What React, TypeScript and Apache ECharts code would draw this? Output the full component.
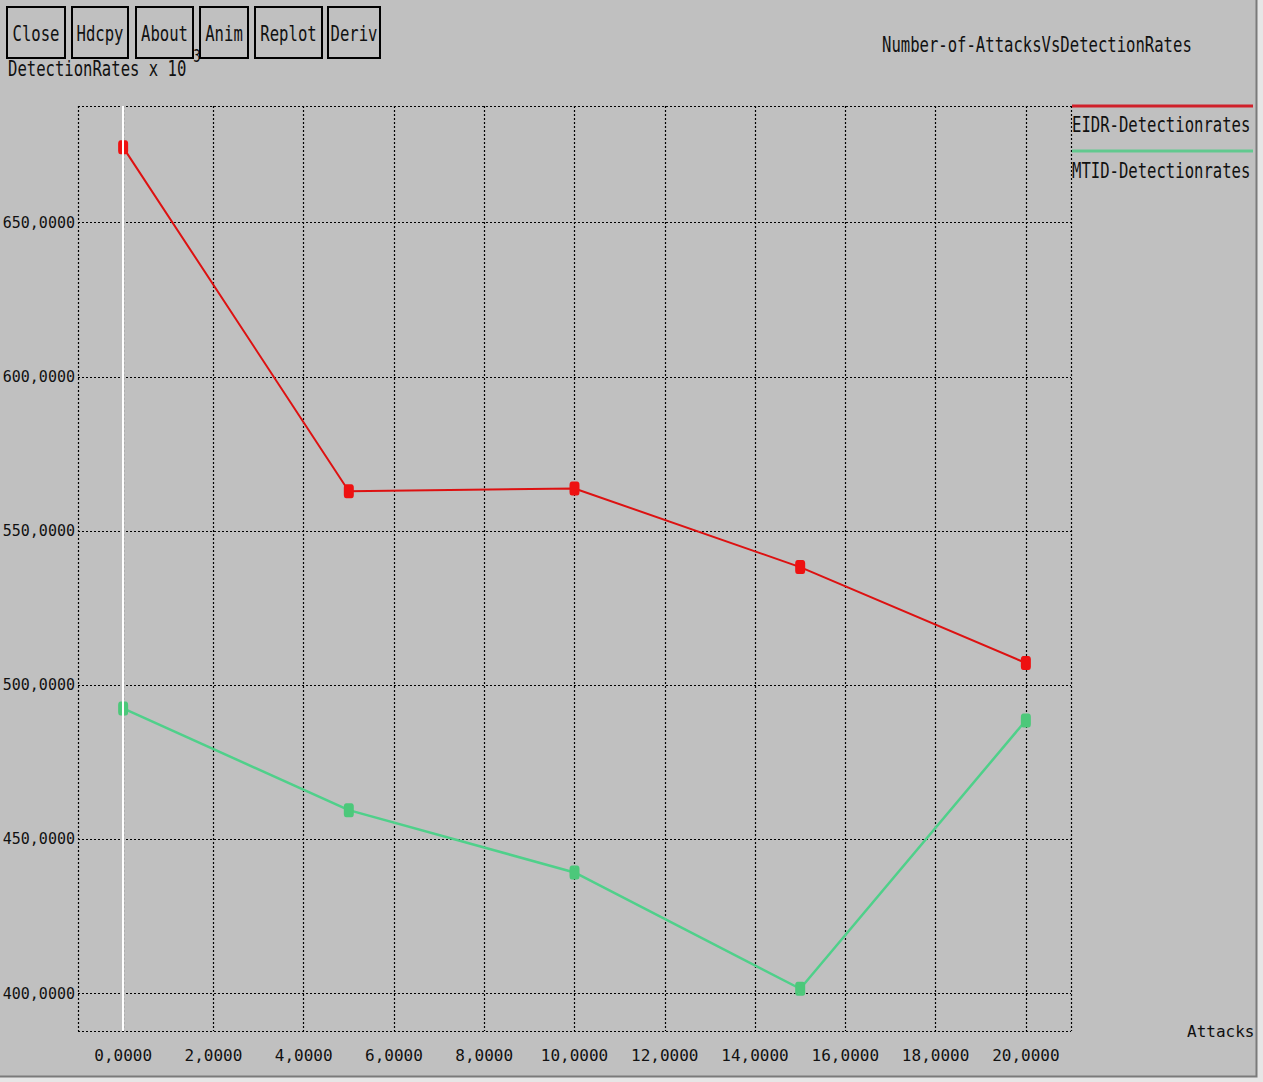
import React, { useEffect, useRef } from "react";
import * as echarts from "echarts";

// ---- data ----
const attacks = [0, 5, 10, 15, 20];
const eidrRates = [674.4, 562.9, 563.8, 538.3, 507.2];
const mtidRates = [492.5, 459.5, 439.3, 401.6, 488.6];
const xTickValues = [0, 2, 4, 6, 8, 10, 12, 14, 16, 18, 20];
const yTickValues = [400, 450, 500, 550, 600, 650];
const seriesNames = ["EIDR-Detectionrates", "MTID-Detectionrates"];
const buttonLabels = ["Close", "Hdcpy", "About", "Anim", "Replot", "Deriv"];
const chartTitle = "Number-of-AttacksVsDetectionRates";
const yAxisTitle = "DetectionRates x 10";
const yAxisExponent = "-3";
const xAxisTitle = "Attacks";

// axis extents (plot box)
const X_MIN = -1;
const X_MAX = 21;
const Y_MIN = 387.9;
const Y_MAX = 687.8;

const FONT = "DejaVu Sans Mono";
const BG = "#c0c0c0";
const RED = "#dd1111";
const GREEN = "#4fd08a";
const TXT_SCALE_Y = 1.4;

const buttonBoxes = [
  [7, 65],
  [72, 128],
  [136, 193],
  [200, 248],
  [255, 322],
  [328, 380],
];

const fmt = (v: number) => v.toFixed(4).replace(".", ",");

export default function App() {
  const ref = useRef<HTMLDivElement>(null);
  useEffect(() => {
    if (!ref.current) return;
    const chart = echarts.init(ref.current, undefined, { renderer: "svg" });

    const txt = (text: string, x: number, y: number, align = "left", size = 15.6, z = 10) => ({
      type: "text",
      x,
      y,
      scaleY: TXT_SCALE_Y,
      z,
      style: {
        text,
        fill: "#111",
        font: `${size}px '${FONT}'`,
        textAlign: align,
        textVerticalAlign: "middle",
      },
    });

    const graphics: any[] = [];
    graphics.push(txt(yAxisTitle, 8, 68));
    graphics.push(txt(yAxisExponent, 186, 56, "left", 12, 9));
    buttonBoxes.forEach(([x0, x1], i) => {
      graphics.push({
        type: "rect",
        z: 20,
        shape: { x: x0, y: 7, width: x1 - x0, height: 51 },
        style: { fill: BG, stroke: "#000", lineWidth: 2 },
      });
      graphics.push(txt(buttonLabels[i], (x0 + x1) / 2, 33, "center", 15.6, 21));
    });
    graphics.push(txt(chartTitle, 882, 44));
    graphics.push({
      type: "line",
      z: 10,
      shape: { x1: 1072, y1: 106, x2: 1253, y2: 106 },
      style: { stroke: "#d0202a", lineWidth: 3 },
    });
    graphics.push(txt(seriesNames[0], 1072, 124));
    graphics.push({
      type: "line",
      z: 10,
      shape: { x1: 1072, y1: 151, x2: 1253, y2: 151 },
      style: { stroke: "#62c98f", lineWidth: 3 },
    });
    graphics.push(txt(seriesNames[1], 1072, 170));
    graphics.push({
      type: "rect",
      z: 30,
      shape: { x: 1257, y: 0, width: 6, height: 1082 },
      style: { fill: "#e6e6e6" },
    });
    graphics.push({
      type: "rect",
      z: 30,
      shape: { x: 0, y: 1077, width: 1263, height: 5 },
      style: { fill: "#e6e6e6" },
    });
    graphics.push({
      type: "polyline",
      z: 31,
      shape: { points: [[1256.5, 0], [1256.5, 1076.5], [0, 1076.5]] },
      style: { stroke: "#7a7a7a", lineWidth: 2, fill: "none" },
    });

    const gridLine = { color: "#000", width: 1.2, type: [2, 2] as any };

    const option: any = {
      animation: false,
      backgroundColor: BG,
      textStyle: { fontFamily: FONT },
      grid: {
        left: 78,
        right: 192,
        top: 106,
        bottom: 51,
        containLabel: false,
        outerBoundsMode: "none",
      },
      xAxis: {
        type: "value",
        min: X_MIN,
        max: X_MAX,
        name: xAxisTitle,
        nameLocation: "end",
        nameGap: 116,
        nameTextStyle: { fontFamily: FONT, fontSize: 16, color: "#111", verticalAlign: "middle" },
        axisLine: { show: false },
        axisTick: { show: false, customValues: [X_MIN, ...xTickValues, X_MAX] },
        axisLabel: {
          customValues: xTickValues,
          formatter: (v: number) => fmt(v),
          fontFamily: FONT,
          fontSize: 16,
          color: "#111",
          margin: 16,
        },
        splitLine: { show: true, lineStyle: gridLine },
      },
      yAxis: {
        type: "value",
        min: Y_MIN,
        max: Y_MAX,
        axisLine: { show: false },
        axisTick: { show: false, customValues: [Y_MIN, ...yTickValues, Y_MAX] },
        axisLabel: {
          customValues: yTickValues,
          formatter: (v: number) => fmt(v),
          fontFamily: FONT,
          fontSize: 15,
          color: "#111",
          margin: 3,
        },
        splitLine: { show: true, lineStyle: gridLine },
      },
      graphic: graphics,
      series: [
        {
          type: "line",
          name: "zero",
          data: [],
          z: 1,
          silent: true,
          markLine: {
            silent: true,
            symbol: "none",
            label: { show: false },
            lineStyle: { color: "#ffffff", type: "solid", width: 2 },
            data: [{ xAxis: 0 }],
          },
        },
        {
          type: "line",
          name: seriesNames[0],
          data: attacks.map((a, i) => [a, eidrRates[i]]),
          z: 3,
          symbol: "roundRect",
          symbolSize: [10, 14],
          itemStyle: { color: "#ee1111" },
          lineStyle: { color: RED, width: 2 },
        },
        {
          type: "line",
          name: seriesNames[1],
          data: attacks.map((a, i) => [a, mtidRates[i]]),
          z: 3,
          symbol: "roundRect",
          symbolSize: [10, 14],
          itemStyle: { color: "#4cc87a" },
          lineStyle: { color: GREEN, width: 2.5 },
        },
      ],
    };
    chart.setOption(option);
    return () => chart.dispose();
  }, []);

  return (
    <div
      ref={ref}
      style={{ position: "absolute", left: 0, top: 0, width: 1263, height: 1082 }}
    />
  );
}
